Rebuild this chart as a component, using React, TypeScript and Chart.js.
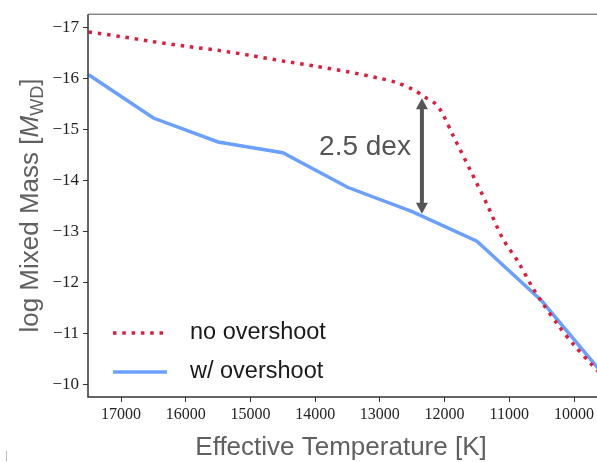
import React, { useEffect, useRef } from "react";
import { Chart, registerables } from "chart.js";

Chart.register(...registerables);

const tempsNoOvershoot = [17500, 17000, 16500, 16000, 15500, 15000, 14500, 14000, 13500, 13000, 12750, 12500, 12300, 12150, 12050, 11850, 11600, 11350, 11100, 10850, 10650, 10500, 10250, 10000, 9750, 9500];
const massNoOvershoot = [-16.92, -16.83, -16.73, -16.64, -16.56, -16.46, -16.35, -16.25, -16.14, -16.01, -15.93, -15.8, -15.64, -15.52, -15.36, -14.84, -14.2, -13.55, -12.86, -12.38, -11.92, -11.62, -11.17, -10.77, -10.42, -10.08];

const tempsOvershoot = [17500, 16500, 15500, 14500, 13500, 12500, 11500, 10500, 9500];
const massOvershoot = [-16.08, -15.23, -14.76, -14.55, -13.87, -13.39, -12.81, -11.64, -10.12];

const xTicks = [17000, 16000, 15000, 14000, 13000, 12000, 11000, 10000];
const yTicks = [-17, -16, -15, -14, -13, -12, -11, -10];

const seriesLabels = ["no overshoot", "w/ overshoot"];
const annotationText = "2.5 dex";
const arrowT = 12350;
const arrowTop = -15.62;
const arrowBottom = -13.35;

const RED = "#dc1f3f";
const BLUE = "#6aa0ff";

const overlay = {
  id: "overlay",
  afterDraw(chart: any) {
    const { ctx, chartArea, scales } = chart;
    const xs = scales.x;
    const ys = scales.y;
    ctx.save();
    // spines
    ctx.strokeStyle = "#8a8a8a";
    ctx.lineWidth = 1.5;
    ctx.beginPath();
    ctx.moveTo(chartArea.left, chartArea.top);
    ctx.lineTo(chartArea.right + 2, chartArea.top);
    ctx.stroke();
    ctx.strokeStyle = "#333";
    ctx.lineWidth = 1.5;
    ctx.beginPath();
    ctx.moveTo(chartArea.left, chartArea.top);
    ctx.lineTo(chartArea.left, chartArea.bottom);
    ctx.lineTo(chartArea.right + 2, chartArea.bottom);
    ctx.stroke();

    // arrow
    const ax = xs.getPixelForValue(arrowT);
    const y1 = ys.getPixelForValue(arrowTop);
    const y2 = ys.getPixelForValue(arrowBottom);
    ctx.fillStyle = "#555";
    ctx.strokeStyle = "#555";
    ctx.lineWidth = 4;
    ctx.beginPath();
    ctx.moveTo(ax, y1 + 8);
    ctx.lineTo(ax, y2 - 8);
    ctx.stroke();
    ctx.beginPath();
    ctx.moveTo(ax, y1);
    ctx.lineTo(ax - 6, y1 + 11);
    ctx.lineTo(ax + 6, y1 + 11);
    ctx.closePath();
    ctx.fill();
    ctx.beginPath();
    ctx.moveTo(ax, y2);
    ctx.lineTo(ax - 6, y2 - 11);
    ctx.lineTo(ax + 6, y2 - 11);
    ctx.closePath();
    ctx.fill();

    ctx.font = '28px "Liberation Sans", Arial, sans-serif';
    ctx.textAlign = "right";
    ctx.textBaseline = "middle";
    ctx.fillStyle = "#555";
    ctx.fillText(annotationText, ax - 11, (y1 + y2) / 2 - 9);

    // legend
    const lx0 = chartArea.left + 25;
    const lx1 = lx0 + 54;
    const ly1 = 333;
    const ly2 = 372;
    ctx.lineWidth = 3.5;
    ctx.strokeStyle = RED;
    ctx.setLineDash([3.5, 5.8]);
    ctx.beginPath();
    ctx.moveTo(lx0, ly1);
    ctx.lineTo(lx1, ly1);
    ctx.stroke();
    ctx.setLineDash([]);
    ctx.strokeStyle = BLUE;
    ctx.beginPath();
    ctx.moveTo(lx0, ly2);
    ctx.lineTo(lx1, ly2);
    ctx.stroke();
    ctx.font = '23.5px "Liberation Sans", Arial, sans-serif';
    ctx.textAlign = "left";
    ctx.fillStyle = "#1a1a1a";
    ctx.fillText(seriesLabels[0], 190, ly1);
    ctx.fillText(seriesLabels[1], 190, ly2);

    // x title
    ctx.font = '26px "Liberation Sans", Arial, sans-serif';
    ctx.fillStyle = "#606060";
    ctx.textAlign = "center";
    ctx.textBaseline = "alphabetic";
    ctx.fillText("Effective Temperature [K]", 341, 455);

    // y title
    ctx.save();
    ctx.translate(38, 0);
    ctx.rotate(-Math.PI / 2);
    const parts = [
      { t: "log Mixed Mass [", f: '26px "Liberation Sans", Arial, sans-serif', dy: 0 },
      { t: "M", f: 'italic 26px "Liberation Sans", Arial, sans-serif', dy: 0 },
      { t: "WD", f: '18px "Liberation Sans", Arial, sans-serif', dy: 5 },
      { t: "]", f: '26px "Liberation Sans", Arial, sans-serif', dy: 0 },
    ];
    let total = 0;
    for (const p of parts) { ctx.font = p.f; total += ctx.measureText(p.t).width; }
    const cy = (chartArea.top + chartArea.bottom) / 2;
    let pos = -cy - total / 2;
    ctx.textAlign = "left";
    for (const p of parts) {
      ctx.font = p.f;
      ctx.fillText(p.t, pos, p.dy);
      pos += ctx.measureText(p.t).width;
    }
    ctx.restore();

    // small mark bottom-left
    ctx.strokeStyle = "#bbb";
    ctx.lineWidth = 1;
    ctx.beginPath();
    ctx.moveTo(6.5, 451);
    ctx.lineTo(6.5, 461);
    ctx.stroke();
    ctx.restore();
  },
};

export default function App() {
  const ref = useRef<HTMLCanvasElement | null>(null);
  useEffect(() => {
    document.body.style.margin = "0";
    const canvas = ref.current;
    if (!canvas) return;
    const chart = new Chart(canvas, {
      type: "line",
      data: {
        datasets: [
          {
            label: seriesLabels[0],
            data: tempsNoOvershoot.map((t, i) => ({ x: t, y: massNoOvershoot[i] })),
            borderColor: RED,
            borderWidth: 3.5,
            borderDash: [3.5, 5.8],
            pointRadius: 0,
            tension: 0.3,
            fill: false,
          },
          {
            label: seriesLabels[1],
            data: tempsOvershoot.map((t, i) => ({ x: t, y: massOvershoot[i] })),
            borderColor: BLUE,
            borderWidth: 3.5,
            pointRadius: 0,
            tension: 0,
            fill: false,
          },
        ],
      },
      options: {
        animation: false,
        responsive: false,
        maintainAspectRatio: false,
        layout: { padding: { top: 11, right: 0, left: 0, bottom: 0 } },
        plugins: { legend: { display: false }, tooltip: { enabled: false } },
        scales: {
          x: {
            type: "linear",
            reverse: true,
            min: 9645,
            max: 17510,
            afterFit: (s: any) => { s.height = 65; },
            afterBuildTicks: (s: any) => { s.ticks = xTicks.map((v) => ({ value: v })); },
            grid: { display: true, drawOnChartArea: false, drawTicks: true, tickLength: 5, color: "#333", lineWidth: 1 },
            border: { display: false },
            ticks: {
              color: "#222",
              padding: 3,
              maxRotation: 0,
              font: { family: '"Liberation Serif", serif', size: 16 },
              callback: (v: any) => String(v),
            },
          },
          y: {
            type: "linear",
            reverse: true,
            min: -17.27,
            max: -9.75,
            afterFit: (s: any) => { s.width = 88; },
            afterBuildTicks: (s: any) => { s.ticks = yTicks.map((v) => ({ value: v })); },
            grid: { display: true, drawOnChartArea: false, drawTicks: true, tickLength: 5, color: "#333", lineWidth: 1 },
            border: { display: false },
            ticks: {
              color: "#222",
              padding: 4,
              font: { family: '"Liberation Serif", serif', size: 17 },
              callback: (v: any) => "\u2212" + String(Math.abs(v)),
            },
          },
        },
      },
      plugins: [overlay],
    });
    return () => chart.destroy();
  }, []);
  return (
    <div style={{ position: "fixed", left: 0, top: 0, width: 597, height: 462, background: "#fff" }}>
      <canvas ref={ref} width={597} height={462} style={{ width: 597, height: 462, display: "block" }} />
    </div>
  );
}
